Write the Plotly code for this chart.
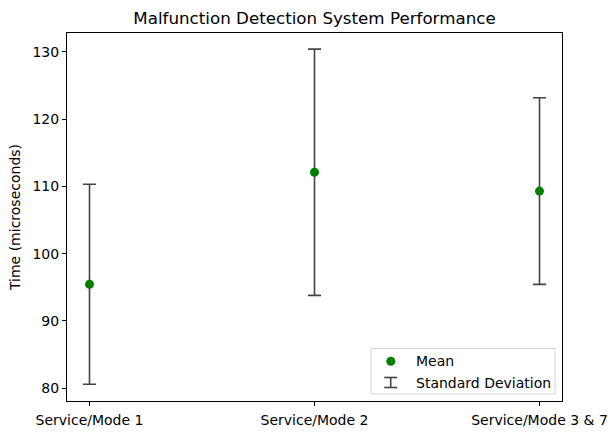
import plotly.graph_objects as go

categories = ["Service/Mode 1", "Service/Mode 2", "Service/Mode 3 & 7"]
means = [95.45, 112.1, 109.3]
stds = [14.87, 18.3, 13.87]
y_ticks = [80, 90, 100, 110, 120, 130]

W, H = 616, 435
L, R, T, B = 67, 54, 33, 34
pw, ph = W - L - R, H - T - B

def px(x):
    return (x - L) / pw

def py(y):
    return (H - B - y) / ph

FONT = "DejaVu Sans"
ECOL = "#444444"
FS = 14

fig = go.Figure()
fig.add_trace(go.Scatter(
    x=categories, y=means, mode="markers",
    marker=dict(color="green", size=9, line=dict(width=0)),
    error_y=dict(type="data", array=stds, visible=True, color=ECOL, thickness=1.6, width=6.5),
    showlegend=False, name="Mean",
))

shapes = []
shapes.append(dict(type="rect", xref="paper", yref="paper",
                   x0=px(371), x1=px(555), y0=py(394), y1=py(348.5),
                   line=dict(color="#d5d5d5", width=1), fillcolor="rgba(255,255,255,0.8)", layer="above"))
shapes.append(dict(type="circle", xref="paper", yref="paper",
                   x0=px(386.3), x1=px(395.3), y0=py(365.8), y1=py(356.8),
                   line=dict(width=0), fillcolor="green", layer="above"))
lx, ly = 390.7, 382.5
shapes.append(dict(type="line", xref="paper", yref="paper", x0=px(lx), x1=px(lx), y0=py(ly + 5), y1=py(ly - 5),
                   line=dict(color=ECOL, width=1.6), layer="above"))
for yy in (ly - 5, ly + 5):
    shapes.append(dict(type="line", xref="paper", yref="paper", x0=px(lx - 6.5), x1=px(lx + 6.5), y0=py(yy), y1=py(yy),
                       line=dict(color=ECOL, width=1.6), layer="above"))

annotations = [
    dict(text="Mean", xref="paper", yref="paper", x=px(414), y=py(361.3), xanchor="left", yanchor="middle",
         showarrow=False, font=dict(family=FONT, size=FS, color="black")),
    dict(text="Standard Deviation", xref="paper", yref="paper", x=px(414), y=py(382.5), xanchor="left", yanchor="middle",
         showarrow=False, font=dict(family=FONT, size=FS, color="black")),
]

fig.update_layout(
    width=W, height=H,
    margin=dict(l=L, r=R, t=T, b=B, pad=0, autoexpand=False),
    paper_bgcolor="white", plot_bgcolor="white",
    font=dict(family=FONT, size=FS, color="black"),
    title=dict(text="Malfunction Detection System Performance", x=0.5, xref="paper", xanchor="center",
               y=1 - 18 / H, yanchor="middle", font=dict(family=FONT, size=16.7, color="black")),
    xaxis=dict(type="category", range=[-0.1, 2.1], showline=True, linecolor="black", linewidth=1, mirror=True,
               ticks="outside", ticklen=4, tickcolor="black", showgrid=False, zeroline=False,
               tickfont=dict(size=FS), ticklabelstandoff=2, automargin=False),
    yaxis=dict(range=[78.1, 132.8], tickvals=y_ticks, showline=True, linecolor="black", linewidth=1, mirror=True,
               ticks="outside", ticklen=4, tickcolor="black", showgrid=False, zeroline=False,
               title=dict(text="Time (microseconds)", font=dict(size=FS), standoff=8),
               tickfont=dict(size=FS), automargin=False),
    shapes=shapes, annotations=annotations, showlegend=False,
)

fig.write_html("out.html")
